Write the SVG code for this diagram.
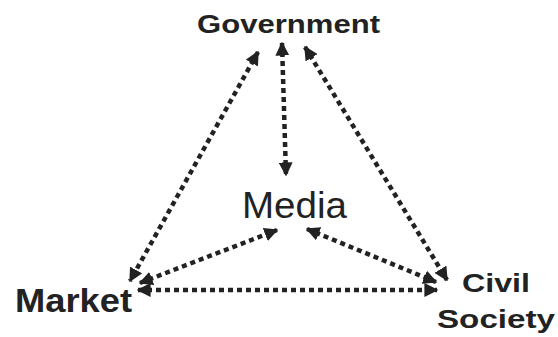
<svg xmlns="http://www.w3.org/2000/svg" width="558" height="337" viewBox="0 0 558 337">
<style>
.lbl{font-family:"Liberation Sans",Arial,sans-serif;font-weight:bold;fill:#222}
.med{font-family:"Liberation Sans",Arial,sans-serif;fill:#222}
.c{stroke:#222;stroke-width:4.5;stroke-dasharray:5 4;fill:none;marker-start:url(#ah);marker-end:url(#ah)}
</style>
<defs>
<marker id="ah" viewBox="0 0 10 10" refX="9" refY="5" markerWidth="14" markerHeight="14" markerUnits="userSpaceOnUse" orient="auto-start-reverse">
<path d="M0,0 L10,5 L0,10 Z" fill="#222"/>
</marker>
</defs>
<rect width="558" height="337" fill="#fff"/>
<g id="connectors">
<line class="c" x1="258" y1="52" x2="130" y2="281"/>
<line class="c" x1="282" y1="43" x2="286" y2="175"/>
<line class="c" x1="305" y1="47" x2="447" y2="280"/>
<line class="c" x1="140" y1="283" x2="277" y2="230"/>
<line class="c" x1="307" y1="229" x2="436" y2="282"/>
<line class="c" x1="138" y1="290" x2="437" y2="290"/>
</g>
<g id="government"><text class="lbl" x="197" y="33" font-size="25" textLength="183" lengthAdjust="spacingAndGlyphs">Government</text></g>
<g id="media"><text class="med" x="242" y="218" font-size="36" textLength="105" lengthAdjust="spacingAndGlyphs">Media</text></g>
<g id="market"><text class="lbl" x="15" y="312" font-size="33" textLength="117" lengthAdjust="spacingAndGlyphs">Market</text></g>
<g id="civil-society"><text class="lbl" font-size="26"><tspan x="462" y="292" textLength="68" lengthAdjust="spacingAndGlyphs">Civil</tspan><tspan x="437" y="328" textLength="118" lengthAdjust="spacingAndGlyphs">Society</tspan></text></g>
</svg>
